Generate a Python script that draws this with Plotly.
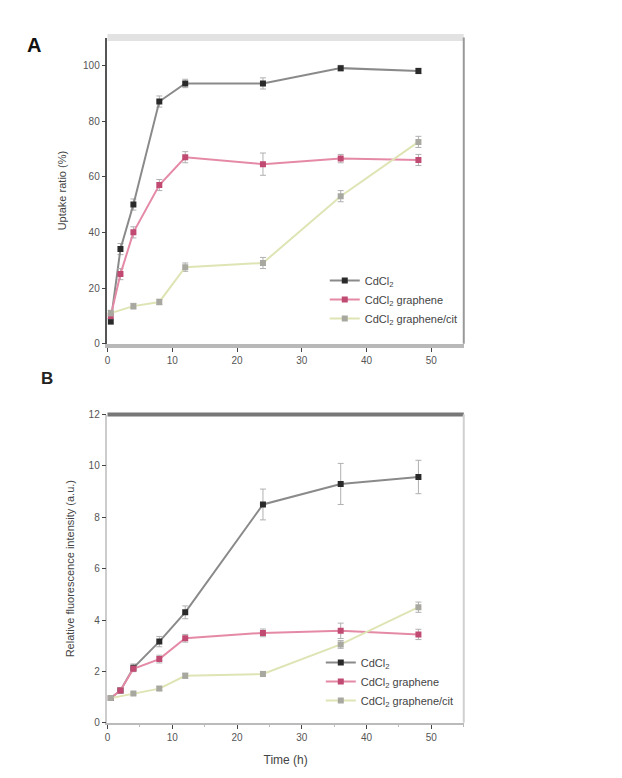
import plotly.graph_objects as go

# ---- data ----
time_h = [0.5, 2, 4, 8, 12, 24, 36, 48]
series_names = ["CdCl<sub>2</sub>", "CdCl<sub>2</sub> graphene", "CdCl<sub>2</sub> graphene/cit"]

# Panel A: uptake ratio (%)
a_s1 = [8, 34, 50, 87, 93.5, 93.5, 99, 98]
a_s2 = [10, 25, 40, 57, 67, 64.5, 66.5, 66]
a_s3_time = [0.5, 4, 8, 12, 24, 36, 48]
a_s3 = [11, 13.5, 15, 27.5, 29, 53, 72.5]
a_err1 = [1, 2, 2, 2, 1.5, 2, 1, 1]
a_err2 = [1, 2, 2, 2, 2, 4, 1.5, 2]
a_err3 = [1, 1, 1, 1.5, 2, 2, 2, 2.5]

# Panel B: relative fluorescence intensity (a.u.)
b_s1 = [0.96, 1.26, 2.14, 3.16, 4.3, 8.5, 9.3, 9.57]
b_s2 = [0.96, 1.26, 2.1, 2.48, 3.29, 3.5, 3.58, 3.44]
b_s3_time = [0.5, 4, 8, 12, 24, 36, 48]
b_s3 = [0.96, 1.14, 1.33, 1.83, 1.9, 3.05, 4.5]
b_err1 = [0.05, 0.1, 0.15, 0.2, 0.25, 0.6, 0.8, 0.65]
b_err2 = [0.05, 0.1, 0.1, 0.15, 0.15, 0.15, 0.3, 0.2]
b_err3 = [0.05, 0.05, 0.08, 0.1, 0.1, 0.15, 0.2]

x_ticks = [0, 10, 20, 30, 40, 50]
a_y_ticks = [0, 20, 40, 60, 80, 100]
b_y_ticks = [0, 2, 4, 6, 8, 10, 12]

line_cols = ["#8a8a8a", "#e58aa6", "#dfe4b4"]
mark_cols = ["#2a2a2a", "#c04a72", "#a8a8a0"]

FONT = "Liberation Sans, Arial, sans-serif"

fig = go.Figure()

def add_series(x, y, err, name, i, xa, ya, legend):
    fig.add_trace(go.Scatter(
        x=x, y=y, name=name, mode="lines+markers",
        xaxis=xa, yaxis=ya, legend=legend, showlegend=True,
        line=dict(color=line_cols[i], width=2),
        marker=dict(color=mark_cols[i], size=6, symbol="square"),
        error_y=dict(type="data", array=err, color="#b0b0b0", thickness=1, width=3),
    ))

add_series(time_h, a_s1, a_err1, series_names[0], 0, "x", "y", "legend")
add_series(time_h, a_s2, a_err2, series_names[1], 1, "x", "y", "legend")
add_series(a_s3_time, a_s3, a_err3, series_names[2], 2, "x", "y", "legend")

add_series(time_h, b_s1, b_err1, series_names[0], 0, "x2", "y2", "legend2")
add_series(time_h, b_s2, b_err2, series_names[1], 1, "x2", "y2", "legend2")
add_series(b_s3_time, b_s3, b_err3, series_names[2], 2, "x2", "y2", "legend2")

xdom = [105 / 622, 463 / 622]
ydomA = [1 - 343 / 778, 1 - 32 / 778]
ydomB = [1 - 728 / 778, 1 - 415 / 778]

axis_common = dict(showgrid=False, zeroline=False, ticks="outside", ticklen=4,
                   tickfont=dict(size=10, color="#555", family=FONT))

fig.update_layout(
    width=622, height=778,
    margin=dict(l=0, r=0, t=0, b=0),
    paper_bgcolor="white", plot_bgcolor="white",
    font=dict(family=FONT, color="#333", size=11),
    xaxis=dict(domain=xdom, anchor="y", range=[0, 55], tickvals=x_ticks,
               showline=True, linecolor="#b8b8b8", linewidth=4, **axis_common),
    yaxis=dict(domain=ydomA, anchor="x", range=[0, 110], tickvals=a_y_ticks,
               showline=True, linecolor="#555", linewidth=1.5,
               title=dict(text="Uptake ratio (%)", font=dict(size=11, color="#444"), standoff=14),
               **axis_common),
    xaxis2=dict(domain=xdom, anchor="y2", range=[0, 55], tickvals=x_ticks,
                minor=dict(ticks="outside", ticklen=2, dtick=5, tickcolor="#bbb"),
                showline=True, linecolor="#bbbbbb", linewidth=1.5,
                title=dict(text="Time (h)", font=dict(size=12, color="#444"), standoff=14),
                **axis_common),
    yaxis2=dict(domain=ydomB, anchor="x2", range=[0, 12], tickvals=b_y_ticks,
                showline=True, linecolor="#cccccc", linewidth=1.5,
                title=dict(text="Relative fluorescence intensity (a.u.)", font=dict(size=11, color="#444"), standoff=12),
                **axis_common),
    legend=dict(x=462 / 622, y=1 - 332 / 778, xref="paper", yref="paper",
                xanchor="right", yanchor="bottom",
                bgcolor="rgba(0,0,0,0)", font=dict(size=11, color="#444", family=FONT),
                tracegroupgap=0, itemwidth=30),
    legend2=dict(x=458 / 622, y=1 - 720 / 778, xref="paper", yref="paper",
                 xanchor="right", yanchor="bottom",
                 bgcolor="rgba(0,0,0,0)", font=dict(size=11, color="#444", family=FONT),
                 tracegroupgap=0, itemwidth=30),
)

# frame lines (top/right) of each panel
fig.add_shape(type="line", xref="x domain", yref="y domain", x0=0, x1=1, y0=1, y1=1,
              line=dict(color="#e2e2e2", width=7))
fig.add_shape(type="line", xref="x domain", yref="y domain", x0=1, x1=1, y0=0, y1=1,
              line=dict(color="#999999", width=2))
fig.add_shape(type="line", xref="x2 domain", yref="y2 domain", x0=0, x1=1, y0=1, y1=1,
              line=dict(color="#777777", width=4))
fig.add_shape(type="line", xref="x2 domain", yref="y2 domain", x0=1, x1=1, y0=0, y1=1,
              line=dict(color="#d0d0d0", width=2))

# panel letters
fig.add_annotation(text="<b>A</b>", x=22 / 622, y=1 - 40 / 778, xref="paper", yref="paper",
                   showarrow=False, xanchor="left", yanchor="middle",
                   font=dict(size=20, color="#111", family=FONT))
fig.add_annotation(text="<b>B</b>", x=36 / 622, y=1 - 378 / 778, xref="paper", yref="paper",
                   showarrow=False, xanchor="left", yanchor="middle",
                   font=dict(size=17, color="#222", family=FONT))

fig.write_html("out.html")
